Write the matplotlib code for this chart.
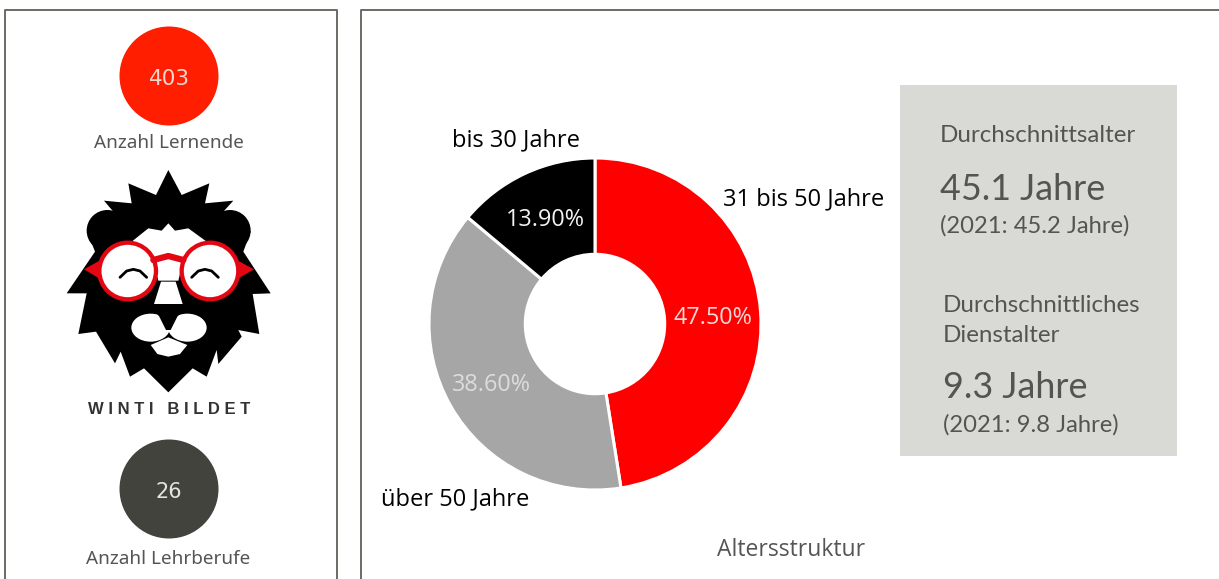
import matplotlib
matplotlib.use("Agg")
import matplotlib.pyplot as plt
from matplotlib.patches import Circle, Rectangle, Polygon, Ellipse

shares = [47.5, 38.6, 13.9]
share_labels = ["47.50%", "38.60%", "13.90%"]
share_names = ["31 bis 50 Jahre", "über 50 Jahre", "bis 30 Jahre"]
share_colors = ["#ff0000", "#a6a6a6", "#000000"]
label_colors = ["#f2d9d9", "#dcdcdc", "#f2f2f2"]

W, H = 1219, 579
fig = plt.figure(figsize=(W / 100, H / 100), dpi=100)
bg = fig.add_axes([0, 0, 1, 1])
bg.set_xlim(0, W)
bg.set_ylim(H, 0)
bg.axis("off")

# panels
frame = "#6b6b66"
bg.plot([5, 5, 337, 337], [579, 10, 10, 579], color=frame, lw=1.4)
bg.plot([361, 361, 1219], [579, 10, 10], color=frame, lw=1.4)

# kpi circles
bg.add_patch(Circle((169, 76), 49.5, color="#ff1e00", lw=0))
bg.text(169, 79, "403", color="#f0d8d0", fontsize=15.5, ha="center", va="center", family="DejaVu Sans")
bg.text(168.5, 143, "Anzahl Lernende", color="#555555", fontsize=13.6, ha="center", va="center", family="Noto Sans")
bg.add_patch(Circle((169, 489), 49.5, color="#43433d", lw=0))
bg.text(169, 492, "26", color="#e4e4e0", fontsize=15, ha="center", va="center", family="DejaVu Sans")
bg.text(168.5, 559.5, "Anzahl Lehrberufe", color="#555555", fontsize=13.6, ha="center", va="center", family="Noto Sans")


# logo, outlined in zoomed crop coordinates
def lp(pts):
    return [(60 + x / 3, 160 + y / 3) for x, y in pts]


mane = [(325, 30), (365, 105), (448, 70), (435, 130), (520, 122), (490, 155), (540, 175), (572, 215),
        (550, 275), (632, 400), (578, 402), (598, 522), (535, 510), (545, 530), (475, 612), (470, 570),
        (440, 650), (398, 625), (325, 697), (252, 625), (210, 650), (182, 575), (165, 610), (108, 515),
        (55, 522), (80, 400), (20, 400), (105, 275), (82, 215), (110, 175), (160, 155), (132, 122),
        (215, 130), (205, 70), (288, 105)]
bg.add_patch(Polygon(lp(mane), closed=True, color="black", lw=0))
for ex in (142, 510):
    bg.add_patch(Circle((60 + ex / 3, 160 + 212 / 3), 62 / 3, color="black", lw=0))
face = [(325, 190), (345, 212), (385, 205), (440, 245), (370, 300), (355, 362), (295, 362), (280, 300),
        (215, 245), (265, 205), (305, 212)]
bg.add_patch(Polygon(lp(face), closed=True, color="white", lw=0))
nose2 = [(303, 365), (347, 365), (368, 432), (282, 432)]
bg.add_patch(Polygon(lp(nose2), closed=True, color="white", lw=0))
for mx in (272, 382):
    bg.add_patch(Ellipse((60 + mx / 3, 160 + 503 / 3), 116 / 3, 84 / 3, color="white", lw=0))
nose = [(278, 445), (375, 445), (352, 470), (332, 510), (318, 510), (298, 470)]
bg.add_patch(Polygon(lp(nose), closed=True, color="black", lw=0))
chin = [(272, 555), (325, 532), (382, 555), (360, 582), (325, 590), (292, 582)]
bg.add_patch(Polygon(lp(chin), closed=True, color="white", lw=0))
red = "#e30613"
for gx in (203, 450):
    bg.add_patch(Circle((60 + gx / 3, 160 + 333 / 3), 85 / 3, fc="white", ec=red, lw=3.1))
bg.plot(*zip(*lp([(280, 300), (325, 288), (370, 300)])), color=red, lw=4.5, solid_capstyle="round")
bg.add_patch(Polygon(lp([(122, 300), (72, 328), (122, 358)]), closed=True, color=red, lw=0))
bg.add_patch(Polygon(lp([(530, 300), (582, 328), (530, 358)]), closed=True, color=red, lw=0))
for ax_x in (220, 435):
    xs = [ax_x - 40, ax_x - 20, ax_x, ax_x + 20, ax_x + 40]
    ys = [352, 333, 328, 333, 352]
    bg.plot(*zip(*lp(zip(xs, ys))), color="black", lw=2, solid_capstyle="round")
bg.text(169.5, 410, "W I N T I   B I L D E T", color="#333333", fontsize=12, ha="center", va="center",
        family="Liberation Sans", fontweight="bold")

# donut
cx, cy, r = 595, 324, 166
pie_ax = fig.add_axes([(cx - r) / W, 1 - (cy + r) / H, 2 * r / W, 2 * r / H])
wedges, _ = pie_ax.pie(shares, colors=share_colors, startangle=90, counterclock=False, radius=1,
                       wedgeprops=dict(width=0.58, edgecolor="white", linewidth=2.2))
pie_ax.set_xlim(-1, 1)
pie_ax.set_ylim(-1, 1)

label_pos = [(713, 318), (491, 385), (545, 220)]
for (x, y), t, c in zip(label_pos, share_labels, label_colors):
    bg.text(x, y, t, color=c, fontsize=16.8, ha="center", va="center", family="Open Sans", zorder=5)
bg.set_zorder(3)
bg.patch.set_alpha(0)
name_pos = [(804, 199), (455, 499), (516, 140)]
for (x, y), t in zip(name_pos, share_names):
    bg.text(x, y, t, color="black", fontsize=17, ha="center", va="center", family="Open Sans")
bg.text(791, 550, "Altersstruktur", color="#555555", fontsize=16.5, ha="center", va="center", family="Open Sans")

# info box
bg.add_patch(Rectangle((900, 85), 277, 371, color="#d9dad5", lw=0))
tc = "#555550"
bg.text(940, 136, "Durchschnittsalter", color=tc, fontsize=17.4, va="center", family="Lato")
bg.text(940, 189, "45.1 Jahre", color=tc, fontsize=25.8, va="center", family="Lato")
bg.text(940, 226, "(2021: 45.2 Jahre)", color=tc, fontsize=17.1, va="center", family="Lato")
bg.text(943, 305, "Durchschnittliches", color=tc, fontsize=17.4, va="center", family="Lato")
bg.text(943, 335, "Dienstalter", color=tc, fontsize=17.4, va="center", family="Lato")
bg.text(943, 387, "9.3 Jahre", color=tc, fontsize=25.8, va="center", family="Lato")
bg.text(943, 425, "(2021: 9.8 Jahre)", color=tc, fontsize=17.1, va="center", family="Lato")

plt.savefig("out.png", dpi=100)
